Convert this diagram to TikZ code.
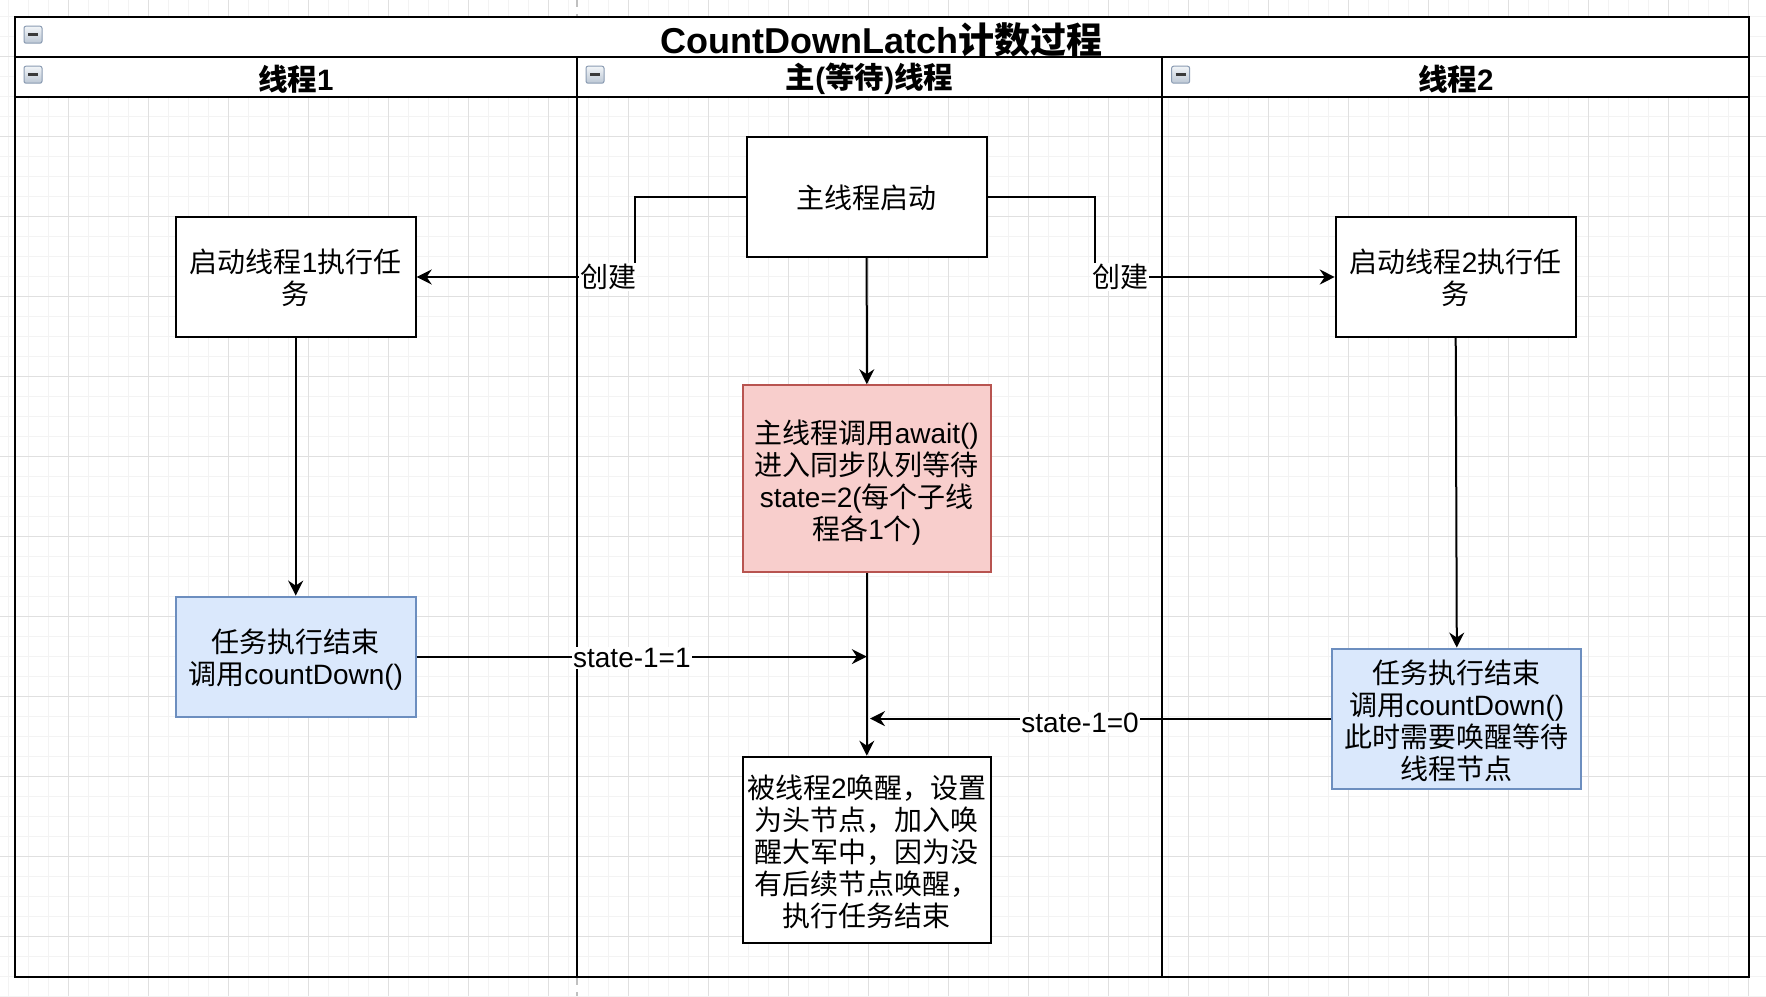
\documentclass[tikz,border=0pt]{standalone}
\usepackage{fontspec}
\setmainfont{Liberation Sans}
\newfontfamily\cjkfam{Noto Sans CJK SC}
\usetikzlibrary{arrows.meta}
\XeTeXinterchartokenstate=1
\newXeTeXintercharclass\CJKcls
\newcount\cjkcnt
\def\setcjkrange#1#2{\cjkcnt=#1\relax\loop\XeTeXcharclass\cjkcnt=\CJKcls\relax\ifnum\cjkcnt<#2\relax\advance\cjkcnt by 1\relax\repeat}
\setcjkrange{"3000}{"303F}
\setcjkrange{"4E00}{"9FFF}
\setcjkrange{"FF00}{"FFEF}
\XeTeXinterchartoks 0 \CJKcls = {\cjkfam}
\XeTeXinterchartoks 4095 \CJKcls = {\cjkfam}
\XeTeXinterchartoks \CJKcls 0 = {\rmfamily}
\XeTeXinterchartoks \CJKcls 4095 = {\rmfamily}
\definecolor{bluF}{HTML}{DAE8FC}
\definecolor{bluD}{HTML}{6C8EBF}
\definecolor{redF}{HTML}{F8CECC}
\definecolor{redD}{HTML}{B85450}
\definecolor{gridA}{HTML}{F3F3F3}
\definecolor{gridB}{HTML}{E0E0E0}
\definecolor{pgbrk}{HTML}{C0C0C0}
\definecolor{iconT}{HTML}{F2F5F8}
\definecolor{iconB}{HTML}{BCC7D4}
\definecolor{iconD}{HTML}{8A9BB2}
\definecolor{iconM}{HTML}{3A3A3A}
\begin{document}
\begin{tikzpicture}[x=1pt,y=-1pt,
  nbox/.style={draw=black, line width=2pt, fill=white, inner sep=0pt},
  bluebox/.style={nbox, draw=bluD, fill=bluF},
  redbox/.style={nbox, draw=redD, fill=redF},
  txt/.style={inner sep=0pt, align=center, font=\fontsize{28}{32}\selectfont},
  conn/.style={line width=2pt, -{Stealth[length=15pt,width=15pt,inset=5pt]}},
  lbl/.style={fill=white, inner sep=1pt, font=\fontsize{28}{32}\selectfont},
  hdr/.style={font=\bfseries\fontsize{29.5}{34}\selectfont, inner sep=0pt},
  lane/.style={line width=2pt, draw=black},
  gridminor/.style={draw=gridA, line width=1pt},
  gridmajor/.style={draw=gridB, line width=1pt},
  pagebreak/.style={draw=pgbrk, line width=2pt, dash pattern=on 7pt off 7pt},
  minusicon/.pic={
    \draw[draw=iconD, line width=1pt, rounded corners=2pt, top color=iconT, bottom color=iconB] (-9,-8.5) rectangle (9,8.5);
    \draw[draw=iconM, line width=2.5pt] (-5,0) -- (5,0);
  }]
\useasboundingbox (0,0) rectangle (1766,996);
\fill[white] (0,0) rectangle (1766,996);
% background grid
\foreach \i in {0,...,87} \draw[gridminor] (8.3+20*\i,0) -- (8.3+20*\i,996);
\foreach \j in {0,...,49} \draw[gridminor] (0,16+20*\j) -- (1766,16+20*\j);
\foreach \i in {0,...,21} \draw[gridmajor] (68.3+80*\i,0) -- (68.3+80*\i,996);
\foreach \j in {0,...,11} \draw[gridmajor] (0,56+80*\j) -- (1766,56+80*\j);
% page break marks
\draw[pagebreak] (576.7,0) -- (576.7,16.7);
\draw[pagebreak] (576.7,978) -- (576.7,996);
% pool and lanes
\draw[lane, fill=white] (14.7,16.7) rectangle (1749,96.7);
\draw[lane] (14.7,16.7) rectangle (1749,976.7);
\draw[lane] (14.7,56.7) -- (1749,56.7);
\draw[lane] (576.7,56.7) -- (576.7,976.7);
\draw[lane] (1162.3,56.7) -- (1162.3,976.7);
\node[font=\bfseries\fontsize{36}{40}\selectfont, inner sep=0pt] (title) at (881.9,40) {CountDownLatch计数过程};
\node[hdr] (h1) at (295.7,79) {线程1};
\node[hdr] (h2) at (869.5,79) {主(等待)线程};
\node[hdr] (h3) at (1455.7,79) {线程2};
\pic at (33,34.7) {minusicon};
\pic at (33,74.7) {minusicon};
\pic at (595,74.7) {minusicon};
\pic at (1180.6,74.7) {minusicon};
% boxes
\node[nbox, minimum width=240pt, minimum height=120pt] (zhu) at (866.7,196.7) {};
\node[nbox, minimum width=240pt, minimum height=119.4pt] (t1) at (295.7,277) {};
\node[nbox, minimum width=240pt, minimum height=119.4pt] (t2) at (1455.7,277) {};
\node[redbox, minimum width=248pt, minimum height=187pt] (await) at (866.8,478.7) {};
\node[bluebox, minimum width=240pt, minimum height=120pt] (b1) at (295.7,656.6) {};
\node[bluebox, minimum width=249pt, minimum height=140pt] (b2) at (1456.8,718.6) {};
\node[nbox, minimum width=248pt, minimum height=186pt] (wake) at (866.8,849.7) {};
% box texts
\node[txt] (zhuT) at (866.7,197.7) {主线程启动};
\node[txt] (t1T) at (295.7,278) {启动线程1执行任\\务};
\node[txt] (t2T) at (1455.7,278) {启动线程2执行任\\务};
\node[txt] (awaitT) at (866.8,482.5) {主线程调用await()\\进入同步队列等待\\state=2(每个子线\\程各1个)};
\node[txt] (b1T) at (295.7,659.6) {任务执行结束\\调用countDown()};
\node[txt] (b2T) at (1456.8,721.1) {任务执行结束\\调用countDown()\\此时需要唤醒等待\\线程节点};
\node[txt] (wakeT) at (866.8,852.2) {被线程2唤醒，设置\\为头节点，加入唤\\醒大军中，因为没\\有后续节点唤醒，\\执行任务结束};
% connectors
\coordinate (lc1) at (635,196.7);
\coordinate (lc2) at (635,277);
\coordinate (rc1) at (1095,196.7);
\coordinate (rc2) at (1095,277);
\coordinate (j1) at (866.8,656.6);
\coordinate (j2) at (870,718.6);
\draw[conn] (zhu.west) -- (lc1) -- (lc2) -- (t1.east);
\draw[conn] (zhu.east) -- (rc1) -- (rc2) -- (t2.west);
\draw[conn] (zhu.south) -- (await.north);
\draw[conn] (t1.south) -- (b1.north);
\draw[conn] (t2.south) -- (b2.north);
\draw[conn] (await.south) -- (wake.north);
\draw[conn] (b1.east) -- (j1);
\draw[conn] (b2.west) -- (j2);
% edge labels
\node[lbl] (l1) at (608,277) {创建};
\node[lbl] (l2) at (1120.4,277) {创建};
\node[lbl] (l3) at (631.9,658) {state-1=1};
\node[lbl] (l4) at (1080,722.5) {state-1=0};
\end{tikzpicture}
\end{document}
